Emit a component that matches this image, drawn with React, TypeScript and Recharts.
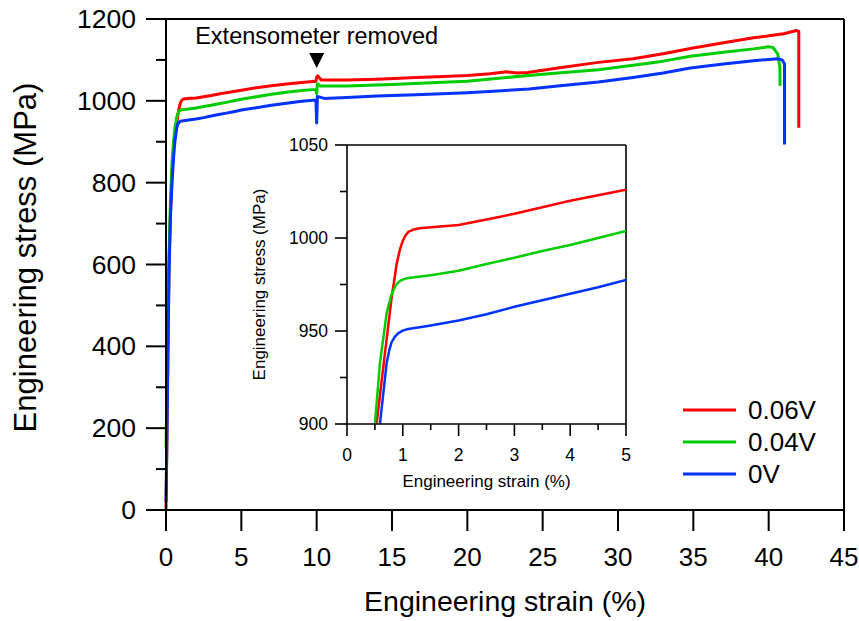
import React from 'react';
import { LineChart, Line, XAxis, YAxis, ReferenceLine, ReferenceDot, Legend, Label } from 'recharts';

// [strain (%), stress (MPa)] samples of each tensile curve
const curve006V: [number, number][] = [
  [0, 0], [0.05, 150], [0.1, 310], [0.2, 600], [0.3, 730], [0.4, 820], [0.53, 900],
  [0.66, 933], [0.8, 968], [0.89, 986], [0.95, 994], [1.0, 998.5], [1.05, 1001.5],
  [1.1, 1003.3], [1.2, 1004.6], [1.3, 1005.2], [1.4, 1005.5],
  [2.0, 1007], [2.5, 1010], [3.0, 1013], [3.5, 1016.5], [4.0, 1020], [4.5, 1023], [5.0, 1026],
  [6, 1032], [7, 1037], [8, 1041], [9, 1045], [9.95, 1048], [10.0, 1058], [10.08, 1061],
  [10.3, 1051], [12, 1051], [14, 1053], [16.6, 1057], [18, 1059], [20, 1062], [21.5, 1066],
  [22.6, 1071], [23.3, 1068], [24, 1069], [26, 1080], [28.7, 1094], [31, 1103], [33, 1115],
  [34.8, 1128], [37, 1142], [39, 1154], [41, 1164], [41.85, 1172], [42.0, 1169], [42.0, 934],
];

const curve004V: [number, number][] = [
  [0, 150], [0.05, 260], [0.1, 380], [0.2, 620], [0.3, 760], [0.4, 850], [0.5, 900],
  [0.59, 932.6], [0.71, 959.5], [0.78, 968], [0.84, 972.5], [0.89, 975.2], [0.95, 976.9],
  [1.0, 977.7], [1.07, 978.3], [1.5, 980],
  [2.0, 982.4], [2.5, 986], [3.0, 989.4], [3.5, 993], [4.0, 996.2], [4.5, 1000], [5.0, 1003.8],
  [6, 1010], [7, 1016], [8, 1021], [9, 1025], [9.95, 1028], [10.0, 1018], [10.05, 1042],
  [10.25, 1036], [12, 1036], [15, 1040], [18, 1045], [20, 1048], [22.6, 1057], [25, 1065],
  [28.7, 1076], [31, 1087], [33, 1097], [34.8, 1109], [37, 1119], [39, 1127], [40.0, 1132],
  [40.3, 1130], [40.6, 1115], [40.75, 1080], [40.75, 1037],
];

const curve0V: [number, number][] = [
  [0, 20], [0.05, 140], [0.1, 290], [0.2, 580], [0.3, 720], [0.4, 800], [0.5, 860], [0.59, 900],
  [0.71, 932.6], [0.76, 940], [0.8, 944], [0.86, 947], [0.92, 948.9], [1.0, 950.2],
  [1.07, 950.9], [1.5, 953], [2.0, 955.6],
  [2.5, 959], [3.0, 963], [3.5, 966.5], [4.0, 970], [4.5, 973.5], [5.0, 977.4],
  [6, 983], [7, 989], [8, 994], [9, 999], [9.95, 1002], [10.0, 946], [10.05, 1011],
  [10.5, 1006], [12, 1008], [14, 1012], [16.6, 1015], [20, 1020], [22, 1024], [24.1, 1029],
  [26, 1036], [28.7, 1046], [31, 1057], [33, 1068], [34.8, 1080], [37, 1090], [39, 1098],
  [40.6, 1103], [40.9, 1100], [41.05, 1090], [41.05, 893],
];

const seriesNames = ['0.06V', '0.04V', '0V'];
const seriesColors = ['#ff0000', '#00cc00', '#0033ff'];
const seriesCurves = [curve006V, curve004V, curve0V];

const mainXTicks = [0, 5, 10, 15, 20, 25, 30, 35, 40, 45];
const mainYTicks = [0, 100, 200, 300, 400, 500, 600, 700, 800, 900, 1000, 1100, 1200];
const insetXTicks = [0, 0.5, 1, 1.5, 2, 2.5, 3, 3.5, 4, 4.5, 5];
const insetYTicks = [900, 925, 950, 975, 1000, 1025, 1050];

const annotationText = 'Extensometer removed';
const annotationStrain = 10;
const annotationStress = 1100;

const FONT = '"Liberation Sans", Arial, Helvetica, sans-serif';

const series = seriesNames.map((name, i) => ({
  name,
  color: seriesColors[i],
  points: seriesCurves[i].map(([strain, stress]) => ({ strain, stress })),
}));

const MainYTick = (props: any) => {
  const { x, y, payload } = props;
  const major = payload.value % 200 === 0;
  return (
    <g>
      <line x1={x - (major ? 20 : 10)} x2={x} y1={y} y2={y} stroke="#000" strokeWidth={2} />
      {major && (
        <text x={x - 30} y={y} textAnchor="end" dominantBaseline="central" fontSize={26.5} fontFamily={FONT} fill="#000">
          {payload.value}
        </text>
      )}
    </g>
  );
};

const MainXTick = (props: any) => {
  const { x, y, payload } = props;
  return (
    <g>
      <line x1={x} x2={x} y1={y} y2={y + 21} stroke="#000" strokeWidth={2} />
      <text x={x} y={y + 47} textAnchor="middle" dominantBaseline="central" fontSize={26} fontFamily={FONT} fill="#000">
        {payload.value}
      </text>
    </g>
  );
};

const InsetYTick = (props: any) => {
  const { x, y, payload } = props;
  const major = payload.value % 50 === 0;
  return (
    <g>
      <line x1={x - (major ? 12 : 7)} x2={x} y1={y} y2={y} stroke="#000" strokeWidth={1.6} />
      {major && (
        <text x={x - 19} y={y} textAnchor="end" dominantBaseline="central" fontSize={17.5} fontFamily={FONT} fill="#000">
          {payload.value}
        </text>
      )}
    </g>
  );
};

const InsetXTick = (props: any) => {
  const { x, y, payload } = props;
  const major = Number.isInteger(payload.value);
  return (
    <g>
      <line x1={x} x2={x} y1={y} y2={y + (major ? 12 : 6)} stroke="#000" strokeWidth={1.6} />
      {major && (
        <text x={x} y={y + 31} textAnchor="middle" dominantBaseline="central" fontSize={17.5} fontFamily={FONT} fill="#000">
          {payload.value}
        </text>
      )}
    </g>
  );
};

const xTitle = (text: string, dy: number, size: number) => (props: any) => {
  const vb = props.viewBox || { x: 0, y: 0, width: 0, height: 0 };
  return (
    <text x={vb.x + vb.width / 2} y={vb.y + dy} textAnchor="middle" dominantBaseline="central" fontSize={size} fontFamily={FONT} fill="#000">
      {text}
    </text>
  );
};

const yTitle = (text: string, dx: number, shiftY: number, size: number) => (props: any) => {
  const vb = props.viewBox || { x: 0, y: 0, width: 0, height: 0 };
  const cx = vb.x + dx;
  const cy = vb.y + vb.height / 2 + shiftY;
  return (
    <text x={cx} y={cy} transform={`rotate(-90, ${cx}, ${cy})`} textAnchor="middle" dominantBaseline="central" fontSize={size} fontFamily={FONT} fill="#000">
      {text}
    </text>
  );
};

const AnnotationMarker = (props: any) => {
  const { cx, cy } = props;
  return (
    <g>
      <polygon points={`${cx - 7.5},${cy - 7} ${cx + 7.5},${cy - 7} ${cx},${cy + 8}`} fill="#000" />
      <text x={cx} y={cy - 16} textAnchor="middle" fontSize={23.5} fontFamily={FONT} fill="#000">
        {annotationText}
      </text>
    </g>
  );
};

const LegendBox = () => (
  <div style={{ fontFamily: FONT }}>
    {series.map((s) => (
      <div key={s.name} style={{ display: 'flex', alignItems: 'center', height: 32 }}>
        <svg width={53} height={32} style={{ display: 'block' }}>
          <line x1={0} x2={53} y1={16} y2={16} stroke={s.color} strokeWidth={3} />
        </svg>
        <span style={{ marginLeft: 12, fontSize: 26, lineHeight: '32px', color: '#000' }}>{s.name}</span>
      </div>
    ))}
  </div>
);

export default function App() {
  return (
    <div style={{ position: 'absolute', left: 0, top: 0, width: 859, height: 621, background: '#fff' }}>
      <LineChart width={859} height={621} margin={{ top: 19, right: 15, left: 0, bottom: 0 }}>
        <XAxis
          dataKey="strain"
          type="number"
          domain={[0, 45]}
          ticks={mainXTicks}
          interval={0}
          height={111}
          tickSize={0}
          tickMargin={0}
          tickLine={false}
          axisLine={{ stroke: '#000', strokeWidth: 2 }}
          tick={<MainXTick />}
        >
          <Label content={xTitle('Engineering strain (%)', 91, 28.5)} />
        </XAxis>
        <YAxis
          type="number"
          domain={[0, 1200]}
          ticks={mainYTicks}
          interval={0}
          width={166}
          tickSize={0}
          tickMargin={0}
          tickLine={false}
          axisLine={{ stroke: '#000', strokeWidth: 2 }}
          tick={<MainYTick />}
        >
          <Label content={yTitle('Engineering stress (MPa)', 25, -7, 31)} />
        </YAxis>
        <ReferenceLine y={1200} stroke="#000" strokeWidth={2} />
        <ReferenceLine x={45} stroke="#000" strokeWidth={2} />
        {series.map((s) => (
          <Line
            key={s.name}
            data={s.points}
            dataKey="stress"
            name={s.name}
            type="linear"
            stroke={s.color}
            strokeWidth={3}
            strokeLinejoin="round"
            dot={false}
            activeDot={false}
            isAnimationActive={false}
          />
        ))}
        <ReferenceDot x={annotationStrain} y={annotationStress} r={0} shape={<AnnotationMarker />} />
        <Legend
          layout="horizontal"
          verticalAlign="middle"
          align="center"
          content={<LegendBox />}
          wrapperStyle={{ position: 'absolute', left: 683, top: 394, width: 160, height: 96 }}
        />
      </LineChart>

      <div style={{ position: 'absolute', left: 240, top: 130 }}>
        <LineChart width={400} height={370} margin={{ top: 15, right: 14, left: 0, bottom: 0 }}>
          <XAxis
            dataKey="strain"
            type="number"
            domain={[0, 5]}
            ticks={insetXTicks}
            interval={0}
            allowDataOverflow
            height={76}
            tickSize={0}
            tickMargin={0}
            tickLine={false}
            axisLine={{ stroke: '#000', strokeWidth: 1.6 }}
            tick={<InsetXTick />}
          >
            <Label content={xTitle('Engineering strain (%)', 57, 17)} />
          </XAxis>
          <YAxis
            type="number"
            domain={[900, 1050]}
            ticks={insetYTicks}
            interval={0}
            allowDataOverflow
            width={107}
            tickSize={0}
            tickMargin={0}
            tickLine={false}
            axisLine={{ stroke: '#000', strokeWidth: 1.6 }}
            tick={<InsetYTick />}
          >
            <Label content={yTitle('Engineering stress (MPa)', 19, 0, 17)} />
          </YAxis>
          <ReferenceLine y={1050} stroke="#000" strokeWidth={1.6} />
          <ReferenceLine x={5} stroke="#000" strokeWidth={1.6} />
          {series.map((s) => (
            <Line
              key={s.name}
              data={s.points}
              dataKey="stress"
              name={s.name}
              type="linear"
              stroke={s.color}
              strokeWidth={2.5}
              strokeLinejoin="round"
              dot={false}
              activeDot={false}
              isAnimationActive={false}
            />
          ))}
        </LineChart>
      </div>
    </div>
  );
}
